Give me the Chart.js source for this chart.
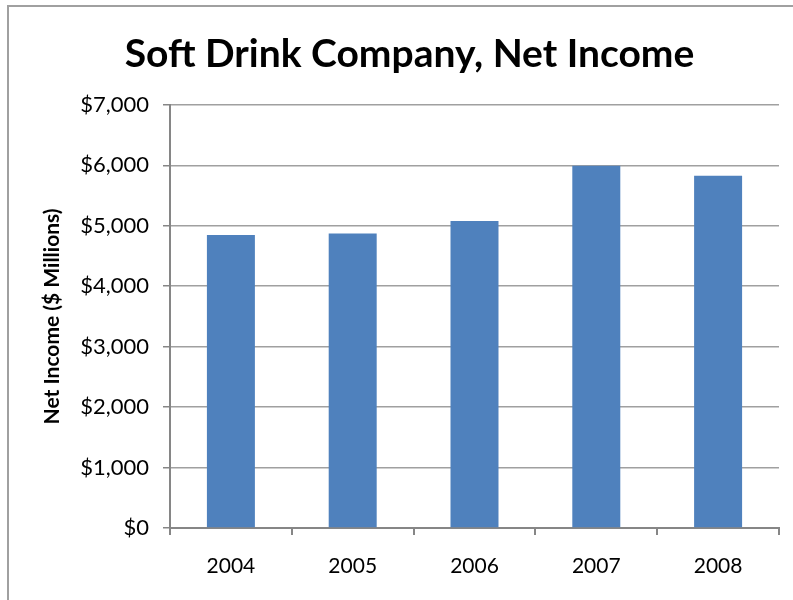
<!DOCTYPE html>
<html>
<head>
<meta charset="utf-8">
<script src="https://cdn.jsdelivr.net/npm/chart.js@4"></script>
<style>
  html, body { margin: 0; padding: 0; background: #fff; }
  #wrap { position: relative; width: 793px; height: 600px; overflow: hidden; }
  #frame { position: absolute; left: 7px; top: 5px; width: 900px; height: 700px;
           border-left: 2px solid #a0a0a0; border-top: 2px solid #a0a0a0; }
  #bar-chart { position: absolute; left: 0; top: 0; }
</style>
</head>
<body>
<div id="wrap">
  <div id="frame"></div>
  <canvas id="bar-chart" width="793" height="600"></canvas>
</div>
<script>
// data
var years = ["2004", "2005", "2006", "2007", "2008"];
var netIncome = [4847, 4872, 5080, 5990, 5825];
var yTicks = [0, 1000, 2000, 3000, 4000, 5000, 6000, 7000];

var axisGray = '#868686';

new Chart(document.getElementById("bar-chart"), {
    type: 'bar',
    data: {
      labels: years,
      datasets: [
        {
          label: "Net Income",
          backgroundColor: "#4f81bd",
          data: netIncome,
          categoryPercentage: 1,
          barPercentage: 0.394
        }
      ]
    },
    options: {
      responsive: false,
      animation: false,
      layout: { padding: { left: 40, right: 14, top: 0, bottom: 0 } },
      plugins: {
        legend: { display: false },
        tooltip: { enabled: false },
        title: {
          display: true,
          text: 'Soft Drink Company, Net Income',
          color: '#000',
          font: { family: 'Lato', size: 39, weight: 'bold', lineHeight: 1.2 },
          padding: { top: 31, bottom: 27 }
        }
      },
      scales: {
        x: {
          afterFit: function (s) { s.height = 72; },
          grid: {
            offset: true,
            drawOnChartArea: false,
            tickLength: 7,
            color: axisGray,
            tickColor: axisGray,
            lineWidth: 2
          },
          border: { color: axisGray, width: 2 },
          ticks: {
            color: '#000',
            padding: 19,
            font: { family: 'Lato', size: 21 }
          }
        },
        y: {
          min: 0,
          max: 7000,
          afterFit: function (s) { s.width = 130; },
          afterBuildTicks: function (s) {
            s.ticks = yTicks.map(function (v) { return { value: v }; });
          },
          grid: {
            color: '#a0a0a0',
            tickColor: axisGray,
            lineWidth: 1.5,
            tickLength: 7
          },
          border: { color: axisGray, width: 2 },
          ticks: {
            color: '#000',
            padding: 14,
            font: { family: 'Lato', size: 22 },
            callback: function (v) { return '$' + v.toLocaleString('en-US'); }
          },
          title: {
            display: true,
            text: 'Net Income ($ Millions)',
            color: '#000',
            font: { family: 'Lato', size: 21, weight: 'bold' },
            padding: { top: 0, bottom: 0 }
          }
        }
      }
    }
});
</script>
</body>
</html>
